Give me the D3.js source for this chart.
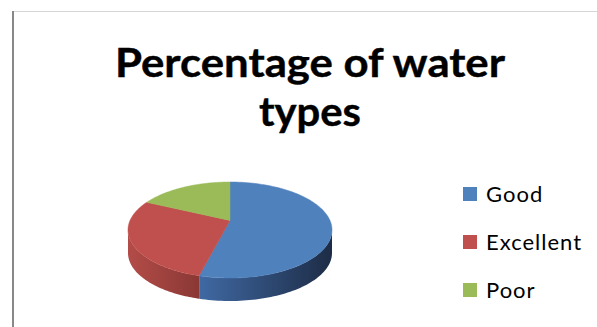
<!DOCTYPE html>
<html>
<head>
<meta charset="utf-8">
<script src="https://cdn.jsdelivr.net/npm/d3@7"></script>
<style>
  html, body { margin: 0; padding: 0; background: #fff; }
  svg { display: block; }
</style>
</head>
<body>
<svg id="chart" width="597" height="327"></svg>
<script>
// ---- data ----
const titleLines = ["Percentage of water", "types"];
const categories = ["Good", "Excellent", "Poor"];
const values = [54, 28, 18];
const colors = ["#4F81BD", "#C0504D", "#9BBB59"];
const sideColors = [["#4069a3", "#1d2c46"], ["#b34c48", "#8a3835"], ["#8aa84f", "#6d8a3c"]];

const W = 597, H = 327;
const svg = d3.select("#chart");
const font = "Lato, 'Open Sans', sans-serif";

// frame lines
svg.append("line").attr("x1", 12).attr("x2", W).attr("y1", 11.5).attr("y2", 11.5)
  .attr("stroke", "#d6d6d6").attr("stroke-width", 1);
svg.append("line").attr("x1", 13).attr("x2", 13).attr("y1", 11).attr("y2", H)
  .attr("stroke", "#888888").attr("stroke-width", 2);

// title
const titleX = 310;
const titleBase = [77, 126];
const titleLen = [390, 102];
titleLines.forEach((t, i) => {
  svg.append("text")
    .attr("x", titleX).attr("y", titleBase[i])
    .attr("text-anchor", "middle")
    .attr("font-family", font).attr("font-weight", "bold")
    .attr("font-size", 41)
    .attr("textLength", titleLen[i]).attr("lengthAdjust", "spacingAndGlyphs")
    .attr("fill", "#000")
    .attr("stroke", "#000").attr("stroke-width", 0.4)
    .text(t);
});

// 3D pie
const cx = 230, cy = 230, rx = 102, ry = 48, depth = 23;
const e = 0.2;                       // perspective offset of the apex
const r = e / (1 + Math.sqrt(1 - e * e));
const ax = 0, ay = -r;
function mapAngle(phi) {            // data angle -> observed angle (clockwise from top)
  const zx = Math.sin(phi), zy = -Math.cos(phi);
  const nx = zx + ax, ny = zy + ay;
  const dx = 1 + ax * zx + ay * zy, dy = ax * zy - ay * zx;
  const d2 = dx * dx + dy * dy;
  const wx = (nx * dx + ny * dy) / d2, wy = (ny * dx - nx * dy) / d2;
  let psi = Math.atan2(wx, -wy);
  if (psi < 0) psi += 2 * Math.PI;
  return psi;
}
const px = psi => cx + rx * Math.sin(psi);
const py = psi => cy - ry * Math.cos(psi);
const apex = [cx, cy - ry * e];

const pie = d3.pie().sort(null).value(d => d)(values);
const slices = pie.map((p, i) => {
  let s = mapAngle(p.startAngle);
  let en = mapAngle(p.endAngle);
  if (p.startAngle === 0) s = 0;
  if (Math.abs(p.endAngle - 2 * Math.PI) < 1e-9) en = 2 * Math.PI;
  return { i, s, e: en };
});

const defs = svg.append("defs");
const g = svg.append("g");

// sides (front half: psi in [PI/2, 3PI/2])
slices.forEach(sl => {
  const a0 = Math.max(sl.s, Math.PI / 2), a1 = Math.min(sl.e, 3 * Math.PI / 2);
  if (a1 <= a0) return;
  const N = 60;
  const top = d3.range(N + 1).map(k => a0 + (a1 - a0) * k / N);
  const pts = top.map(a => [px(a), py(a)]);
  const bottom = top.slice().reverse().map(a => [px(a), py(a) + depth]);
  const all = pts.concat(bottom);
  const xs = all.map(p => p[0]);
  const gid = "side" + sl.i;
  const lg = defs.append("linearGradient").attr("id", gid)
    .attr("gradientUnits", "userSpaceOnUse")
    .attr("x1", d3.min(xs)).attr("x2", d3.max(xs)).attr("y1", 0).attr("y2", 0);
  lg.append("stop").attr("offset", "0%").attr("stop-color", sideColors[sl.i][0]);
  lg.append("stop").attr("offset", "100%").attr("stop-color", sideColors[sl.i][1]);
  g.append("path")
    .attr("d", "M" + all.map(p => p.join(",")).join("L") + "Z")
    .attr("fill", `url(#${gid})`);
});

// top faces
slices.forEach(sl => {
  const N = 120;
  const pts = d3.range(N + 1).map(k => {
    const a = sl.s + (sl.e - sl.s) * k / N;
    return [px(a), py(a)];
  });
  g.append("path")
    .attr("d", "M" + apex.join(",") + "L" + pts.map(p => p.join(",")).join("L") + "Z")
    .attr("fill", colors[sl.i])
    .attr("stroke", colors[sl.i]).attr("stroke-width", 0.5);
});

// legend
const legY = d3.scaleBand().domain(categories).range([178, 322]);
const lg = svg.append("g");
categories.forEach((c, i) => {
  const y0 = legY(c);
  lg.append("rect").attr("x", 463).attr("y", y0 + 9).attr("width", 14).attr("height", 14)
    .attr("fill", colors[i]);
  lg.append("text").attr("x", 486).attr("y", y0 + 24)
    .attr("font-family", font).attr("font-size", 22).attr("fill", "#000")
    .attr("letter-spacing", 1)
    .text(c);
});
</script>
</body>
</html>
